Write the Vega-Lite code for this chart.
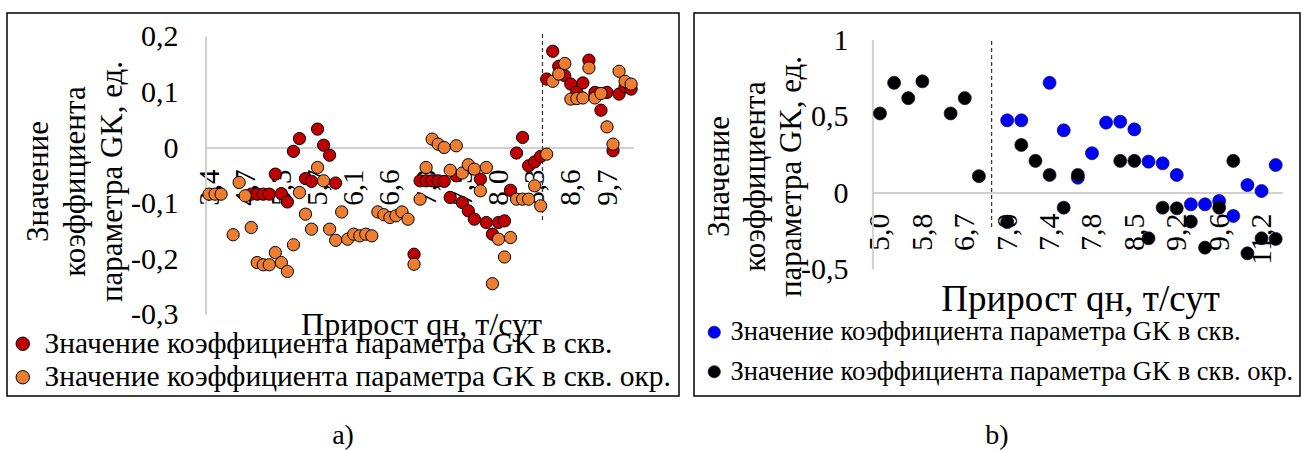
{
  "$schema": "https://vega.github.io/schema/vega-lite/v6.json",
  "padding": {"left": 6, "top": 12, "right": 0, "bottom": 0},
  "background": "#ffffff",
  "bounds": "flush",
  "spacing": 15,
  "config": {
    "font": "Liberation Serif",
    "view": {"stroke": "#000000", "strokeWidth": 1.5},
    "axis": {"labelColor": "#000000", "titleColor": "#000000", "titleFontWeight": "normal", "labelFont": "Liberation Serif", "titleFont": "Liberation Serif"},
    "legend": {"labelFont": "Liberation Serif", "labelColor": "#000000"},
    "title": {"font": "Liberation Serif", "fontWeight": "normal", "color": "#000000"}
  },
  "datasets": {
    "a": [
      {"i": 7, "s": "скв.", "v": -0.083}, {"i": 8, "s": "скв.", "v": -0.083}, {"i": 9, "s": "скв.", "v": -0.083}, {"i": 10, "s": "скв.", "v": -0.083},
      {"i": 11, "s": "скв.", "v": -0.047}, {"i": 12, "s": "скв.", "v": -0.082}, {"i": 13, "s": "скв.", "v": -0.097}, {"i": 14, "s": "скв.", "v": -0.006},
      {"i": 15, "s": "скв.", "v": 0.017}, {"i": 16, "s": "скв.", "v": -0.055}, {"i": 17, "s": "скв.", "v": -0.06}, {"i": 18, "s": "скв.", "v": 0.034},
      {"i": 19, "s": "скв.", "v": 0.005}, {"i": 20, "s": "скв.", "v": -0.013}, {"i": 21, "s": "скв.", "v": -0.063},
      {"i": 34, "s": "скв.", "v": -0.191}, {"i": 35, "s": "скв.", "v": -0.059}, {"i": 36, "s": "скв.", "v": -0.059}, {"i": 37, "s": "скв.", "v": -0.059},
      {"i": 38, "s": "скв.", "v": -0.059}, {"i": 39, "s": "скв.", "v": -0.06}, {"i": 40, "s": "скв.", "v": -0.089}, {"i": 41, "s": "скв.", "v": -0.05},
      {"i": 42, "s": "скв.", "v": -0.098}, {"i": 43, "s": "скв.", "v": -0.113}, {"i": 44, "s": "скв.", "v": -0.128}, {"i": 45, "s": "скв.", "v": -0.056},
      {"i": 46, "s": "скв.", "v": -0.134}, {"i": 47, "s": "скв.", "v": -0.155}, {"i": 48, "s": "скв.", "v": -0.134}, {"i": 49, "s": "скв.", "v": -0.131},
      {"i": 50, "s": "скв.", "v": -0.076}, {"i": 51, "s": "скв.", "v": -0.009}, {"i": 52, "s": "скв.", "v": 0.019}, {"i": 53, "s": "скв.", "v": -0.032},
      {"i": 54, "s": "скв.", "v": -0.025}, {"i": 55, "s": "скв.", "v": -0.015}, {"i": 56, "s": "скв.", "v": 0.124}, {"i": 57, "s": "скв.", "v": 0.174},
      {"i": 58, "s": "скв.", "v": 0.147}, {"i": 59, "s": "скв.", "v": 0.13}, {"i": 60, "s": "скв.", "v": 0.115}, {"i": 61, "s": "скв.", "v": 0.1},
      {"i": 62, "s": "скв.", "v": 0.117}, {"i": 63, "s": "скв.", "v": 0.158}, {"i": 64, "s": "скв.", "v": 0.1}, {"i": 65, "s": "скв.", "v": 0.068},
      {"i": 66, "s": "скв.", "v": 0.1}, {"i": 67, "s": "скв.", "v": -0.005}, {"i": 68, "s": "скв.", "v": 0.097}, {"i": 69, "s": "скв.", "v": 0.11},
      {"i": 70, "s": "скв.", "v": 0.106},
      {"i": 0, "s": "скв. окр.", "v": -0.083}, {"i": 1, "s": "скв. окр.", "v": -0.083}, {"i": 2, "s": "скв. окр.", "v": -0.083}, {"i": 4, "s": "скв. окр.", "v": -0.156},
      {"i": 5, "s": "скв. окр.", "v": -0.062}, {"i": 6, "s": "скв. окр.", "v": -0.086}, {"i": 7, "s": "скв. окр.", "v": -0.143}, {"i": 8, "s": "скв. окр.", "v": -0.206},
      {"i": 9, "s": "скв. окр.", "v": -0.21}, {"i": 10, "s": "скв. окр.", "v": -0.21}, {"i": 11, "s": "скв. окр.", "v": -0.188}, {"i": 12, "s": "скв. окр.", "v": -0.206},
      {"i": 13, "s": "скв. окр.", "v": -0.222}, {"i": 14, "s": "скв. окр.", "v": -0.174}, {"i": 15, "s": "скв. окр.", "v": -0.08}, {"i": 16, "s": "скв. окр.", "v": -0.119},
      {"i": 17, "s": "скв. окр.", "v": -0.146}, {"i": 18, "s": "скв. окр.", "v": -0.035}, {"i": 19, "s": "скв. окр.", "v": -0.059}, {"i": 20, "s": "скв. окр.", "v": -0.146},
      {"i": 21, "s": "скв. окр.", "v": -0.166}, {"i": 22, "s": "скв. окр.", "v": -0.115}, {"i": 23, "s": "скв. окр.", "v": -0.164}, {"i": 24, "s": "скв. окр.", "v": -0.155},
      {"i": 25, "s": "скв. окр.", "v": -0.158}, {"i": 26, "s": "скв. окр.", "v": -0.155}, {"i": 27, "s": "скв. окр.", "v": -0.158}, {"i": 28, "s": "скв. окр.", "v": -0.115},
      {"i": 29, "s": "скв. окр.", "v": -0.12}, {"i": 30, "s": "скв. окр.", "v": -0.125}, {"i": 31, "s": "скв. окр.", "v": -0.122}, {"i": 32, "s": "скв. окр.", "v": -0.115},
      {"i": 33, "s": "скв. окр.", "v": -0.128}, {"i": 34, "s": "скв. окр.", "v": -0.209}, {"i": 35, "s": "скв. окр.", "v": -0.092}, {"i": 36, "s": "скв. окр.", "v": -0.035},
      {"i": 37, "s": "скв. окр.", "v": 0.016}, {"i": 38, "s": "скв. окр.", "v": 0.007}, {"i": 39, "s": "скв. окр.", "v": 0.001}, {"i": 40, "s": "скв. окр.", "v": -0.04},
      {"i": 41, "s": "скв. окр.", "v": 0.004}, {"i": 42, "s": "скв. окр.", "v": -0.045}, {"i": 43, "s": "скв. окр.", "v": -0.03}, {"i": 44, "s": "скв. окр.", "v": -0.038},
      {"i": 45, "s": "скв. окр.", "v": -0.077}, {"i": 46, "s": "скв. окр.", "v": -0.035}, {"i": 47, "s": "скв. окр.", "v": -0.244}, {"i": 48, "s": "скв. окр.", "v": -0.164},
      {"i": 49, "s": "скв. окр.", "v": -0.196}, {"i": 50, "s": "скв. окр.", "v": -0.161}, {"i": 51, "s": "скв. окр.", "v": -0.092}, {"i": 52, "s": "скв. окр.", "v": -0.092},
      {"i": 53, "s": "скв. окр.", "v": -0.092}, {"i": 54, "s": "скв. окр.", "v": -0.068}, {"i": 55, "s": "скв. окр.", "v": -0.104}, {"i": 56, "s": "скв. окр.", "v": -0.011},
      {"i": 57, "s": "скв. окр.", "v": 0.12}, {"i": 58, "s": "скв. окр.", "v": 0.133}, {"i": 59, "s": "скв. окр.", "v": 0.152}, {"i": 60, "s": "скв. окр.", "v": 0.088},
      {"i": 61, "s": "скв. окр.", "v": 0.089}, {"i": 62, "s": "скв. окр.", "v": 0.09}, {"i": 63, "s": "скв. окр.", "v": 0.144}, {"i": 64, "s": "скв. окр.", "v": 0.09},
      {"i": 65, "s": "скв. окр.", "v": 0.098}, {"i": 66, "s": "скв. окр.", "v": 0.038}, {"i": 67, "s": "скв. окр.", "v": 0.007}, {"i": 68, "s": "скв. окр.", "v": 0.138},
      {"i": 69, "s": "скв. окр.", "v": 0.12}, {"i": 70, "s": "скв. окр.", "v": 0.115}
    ],
    "b": [
      {"i": 9, "s": "скв.", "v": 0.475}, {"i": 10, "s": "скв.", "v": 0.475}, {"i": 12, "s": "скв.", "v": 0.72}, {"i": 13, "s": "скв.", "v": 0.41},
      {"i": 14, "s": "скв.", "v": 0.1}, {"i": 15, "s": "скв.", "v": 0.26}, {"i": 16, "s": "скв.", "v": 0.46}, {"i": 17, "s": "скв.", "v": 0.466},
      {"i": 18, "s": "скв.", "v": 0.416}, {"i": 19, "s": "скв.", "v": 0.205}, {"i": 20, "s": "скв.", "v": 0.194}, {"i": 21, "s": "скв.", "v": 0.118},
      {"i": 22, "s": "скв.", "v": -0.074}, {"i": 23, "s": "скв.", "v": -0.074}, {"i": 24, "s": "скв.", "v": -0.052}, {"i": 25, "s": "скв.", "v": -0.15},
      {"i": 26, "s": "скв.", "v": 0.052}, {"i": 27, "s": "скв.", "v": 0.013}, {"i": 28, "s": "скв.", "v": 0.183},
      {"i": 0, "s": "скв. окр.", "v": 0.52}, {"i": 1, "s": "скв. окр.", "v": 0.72}, {"i": 2, "s": "скв. окр.", "v": 0.62}, {"i": 3, "s": "скв. окр.", "v": 0.73},
      {"i": 5, "s": "скв. окр.", "v": 0.52}, {"i": 6, "s": "скв. окр.", "v": 0.62}, {"i": 7, "s": "скв. окр.", "v": 0.11}, {"i": 9, "s": "скв. окр.", "v": -0.19},
      {"i": 10, "s": "скв. окр.", "v": 0.314}, {"i": 11, "s": "скв. окр.", "v": 0.21}, {"i": 12, "s": "скв. окр.", "v": 0.118}, {"i": 13, "s": "скв. окр.", "v": -0.096},
      {"i": 14, "s": "скв. окр.", "v": 0.118}, {"i": 17, "s": "скв. окр.", "v": 0.21}, {"i": 18, "s": "скв. окр.", "v": 0.21}, {"i": 19, "s": "скв. окр.", "v": -0.296},
      {"i": 20, "s": "скв. окр.", "v": -0.096}, {"i": 21, "s": "скв. окр.", "v": -0.1}, {"i": 22, "s": "скв. окр.", "v": -0.187}, {"i": 23, "s": "скв. окр.", "v": -0.357},
      {"i": 24, "s": "скв. окр.", "v": -0.096}, {"i": 25, "s": "скв. окр.", "v": 0.21}, {"i": 26, "s": "скв. окр.", "v": -0.394}, {"i": 27, "s": "скв. окр.", "v": -0.296},
      {"i": 28, "s": "скв. окр.", "v": -0.3}
    ]
  },
  "hconcat": [
    {
      "width": 672,
      "height": 383,
      "title": {"text": "a)", "orient": "bottom", "anchor": "middle", "fontSize": 28, "offset": 26},
      "layer": [
        {
          "data": {"values": [{}]},
          "mark": {"type": "rule", "color": "#d0d0d0", "strokeWidth": 2},
          "encoding": {"x": {"datum": -0.5}, "y": {"datum": -0.3}, "y2": {"datum": 0.2}}
        },
        {
          "data": {"values": [{}]},
          "mark": {"type": "rule", "color": "#d0d0d0", "strokeWidth": 2},
          "encoding": {"y": {"datum": 0}, "x": {"datum": -0.5}, "x2": {"datum": 70.5}}
        },
        {
          "data": {"values": [{}]},
          "mark": {"type": "rule", "color": "#333333", "strokeWidth": 1.2, "strokeDash": [4, 3]},
          "encoding": {"x": {"datum": 55.3}, "y": {"datum": 0.205}, "y2": {"datum": -0.135}}
        },
        {
          "data": {"name": "a"},
          "mark": {"type": "circle", "size": 150, "opacity": 1, "stroke": "#000000", "strokeWidth": 1},
          "encoding": {
            "x": {
              "field": "i", "type": "quantitative",
              "scale": {"domain": [-33.5, 77.94], "nice": false, "zero": false},
              "axis": {
                "values": [0, 6, 12, 18, 24, 30, 36, 42, 48, 54, 60, 66],
                "labelExpr": "['3,4','4,7','5,3','5,7','6,1','6,6','7,0','7,5','8,0','8,3','8,6','9,7'][datum.value / 6]",
                "labelAngle": 270, "labelFont": "Liberation Serif", "labelFontSize": 29, "labelPadding": 0, "labelOverlap": false, "labelBound": false, "labelFlush": false,
                "domain": false, "ticks": false, "tickSize": 0, "grid": false, "offset": -227,
                "title": "Прирост qн, т/сут", "titleFont": "Liberation Serif", "titleFontSize": 32, "titleX": 414, "titleY": 155, "titleAlign": "center", "titleBaseline": "middle", "titleAngle": 0
              }
            },
            "y": {
              "field": "v", "type": "quantitative",
              "scale": {"domain": [-0.446, 0.2428], "nice": false, "zero": false},
              "axis": {
                "values": [-0.3, -0.2, -0.1, 0, 0.1, 0.2],
                "labelExpr": "datum.value == 0 ? '0' : (datum.value < 0 ? '-' : '') + replace(format(abs(datum.value), '.1f'), '.', ',')",
                "labelFont": "Liberation Serif", "labelFontSize": 30, "labelPadding": 0, "labelOverlap": false, "labelBound": false, "labelFlush": false,
                "domain": false, "ticks": false, "tickSize": 0, "grid": false, "offset": -171,
                "title": ["Значение", "коэффициента", "параметра GK, ед."], "titleFont": "Liberation Serif", "titleFontSize": 31, "titleLineHeight": 37,
                "titleX": -140, "titleY": 168, "titleAngle": -90, "titleAlign": "center", "titleBaseline": "middle"
              }
            },
            "color": {
              "field": "s", "type": "nominal",
              "scale": {"domain": ["скв.", "скв. окр."], "range": ["#C00000", "#ED7D31"]},
              "legend": {
                "title": null, "orient": "none", "legendX": 1, "legendY": 316, "direction": "vertical", "padding": 0,
                "labelExpr": "'Значение коэффициента параметра GK в ' + datum.label",
                "labelFont": "Liberation Serif", "labelFontSize": 29.5, "labelOffset": 7, "rowPadding": 2.5, "labelLimit": 0,
                "symbolType": "circle", "symbolSize": 180, "symbolStrokeColor": "#000000", "symbolStrokeWidth": 1, "symbolOpacity": 1
              }
            }
          }
        }
      ]
    },
    {
      "width": 606,
      "height": 383,
      "title": {"text": "b)", "orient": "bottom", "anchor": "middle", "fontSize": 28, "offset": 26},
      "layer": [
        {
          "data": {"values": [{}]},
          "mark": {"type": "rule", "color": "#d0d0d0", "strokeWidth": 2},
          "encoding": {"x": {"datum": -0.5}, "y": {"datum": -0.5}, "y2": {"datum": 1}}
        },
        {
          "data": {"values": [{}]},
          "mark": {"type": "rule", "color": "#d0d0d0", "strokeWidth": 2},
          "encoding": {"y": {"datum": 0}, "x": {"datum": -0.5}, "x2": {"datum": 28.5}}
        },
        {
          "data": {"values": [{}]},
          "mark": {"type": "rule", "color": "#333333", "strokeWidth": 1.2, "strokeDash": [4, 3]},
          "encoding": {"x": {"datum": 7.9}, "y": {"datum": 0.993}, "y2": {"datum": -0.229}}
        },
        {
          "data": {"name": "b"},
          "mark": {"type": "circle", "size": 170, "opacity": 1, "stroke": "#101040", "strokeWidth": 0.7},
          "encoding": {
            "x": {
              "field": "i", "type": "quantitative",
              "scale": {"domain": [-13.16, 29.72], "nice": false, "zero": false},
              "axis": {
                "values": [0, 3, 6, 9, 12, 15, 18, 21, 24, 27],
                "labelExpr": "['5,0','5,8','6,7','7,0','7,4','7,8','8,5','9,2','9,6','11,2'][datum.value / 3]",
                "labelAngle": 270, "labelFont": "Liberation Serif", "labelFontSize": 30, "labelPadding": 0, "labelOverlap": false, "labelBound": false, "labelFlush": false,
                "domain": false, "ticks": false, "tickSize": 0, "grid": false, "offset": -183,
                "title": "Прирост qн, т/сут", "titleFont": "Liberation Serif", "titleFontSize": 37, "titleX": 386, "titleY": 86, "titleAlign": "center", "titleBaseline": "middle", "titleAngle": 0
              }
            },
            "y": {
              "field": "v", "type": "quantitative",
              "scale": {"domain": [-1.3268, 1.1765], "nice": false, "zero": false},
              "axis": {
                "values": [-0.5, 0, 0.5, 1],
                "labelExpr": "datum.value == 0 ? '0' : datum.value == 1 ? '1' : (datum.value < 0 ? '-' : '') + replace(format(abs(datum.value), '.1f'), '.', ',')",
                "labelFont": "Liberation Serif", "labelFontSize": 30, "labelPadding": 0, "labelOverlap": false, "labelBound": false, "labelFlush": false,
                "domain": false, "ticks": false, "tickSize": 0, "grid": false, "offset": -154,
                "title": ["Значение", "коэффициента", "параметра GK, ед."], "titleFont": "Liberation Serif", "titleFontSize": 31, "titleLineHeight": 36,
                "titleX": -129, "titleY": 163, "titleAngle": -90, "titleAlign": "center", "titleBaseline": "middle"
              }
            },
            "color": {
              "field": "s", "type": "nominal",
              "scale": {"domain": ["скв.", "скв. окр."], "range": ["#0000FF", "#000000"]},
              "legend": {
                "title": null, "orient": "none", "legendX": 7, "legendY": 306, "direction": "vertical", "padding": 0,
                "labelExpr": "'Значение коэффициента параметра GK в ' + datum.label",
                "labelFont": "Liberation Serif", "labelFontSize": 26.5, "labelOffset": 3, "rowPadding": 12.5, "labelLimit": 0,
                "symbolType": "circle", "symbolSize": 150, "symbolStrokeColor": "#101040", "symbolStrokeWidth": 0.7, "symbolOpacity": 1
              }
            }
          }
        }
      ]
    }
  ],
  "resolve": {"scale": {"x": "independent", "y": "independent", "color": "independent"}, "legend": {"color": "independent"}}
}
